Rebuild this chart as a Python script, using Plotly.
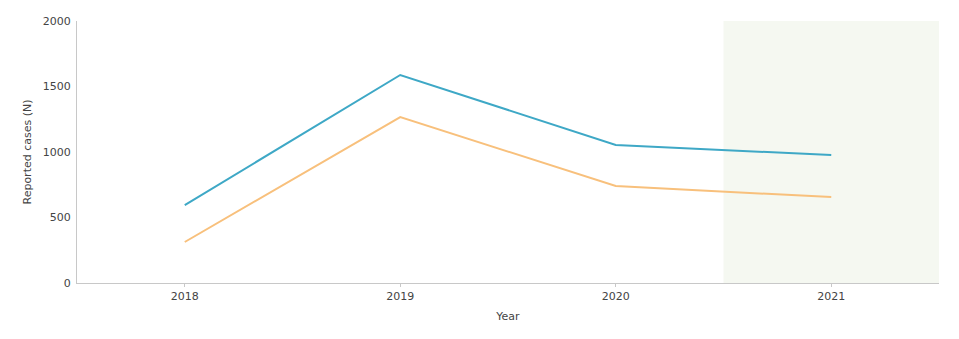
import plotly.graph_objects as go

years = ["2018", "2019", "2020", "2021"]
series_a = [595, 1588, 1053, 977]
series_b = [313, 1267, 740, 656]
y_ticks = [0, 500, 1000, 1500, 2000]

fig = go.Figure()
fig.add_vrect(x0=2.5, x1=3.5, fillcolor="#f5f8f1", line_width=0, layer="below")
fig.add_trace(go.Scatter(x=years, y=series_a, mode="lines", line=dict(color="#3ea8c6", width=2), showlegend=False))
fig.add_trace(go.Scatter(x=years, y=series_b, mode="lines", line=dict(color="#f8c07c", width=2), showlegend=False))

fig.update_layout(
    width=959, height=339,
    margin=dict(l=77, r=20, t=21, b=56),
    paper_bgcolor="white", plot_bgcolor="white",
    font=dict(family="DejaVu Sans, Verdana, sans-serif", size=11, color="#444"),
)
fig.update_xaxes(type="category", range=[-0.5, 3.5], showline=True, linecolor="#c8c8c8", linewidth=1,
                 showgrid=False, ticks="outside", ticklen=3, tickcolor="#c8c8c8", ticklabelstandoff=0,
                 title=dict(text="Year", standoff=10, font=dict(size=11)))
fig.update_yaxes(range=[0, 2000], tickvals=y_ticks, showline=True, linecolor="#c8c8c8", linewidth=1,
                 showgrid=False, zeroline=False, ticks="", ticklabelstandoff=3,
                 title=dict(text="Reported cases (N)", standoff=8, font=dict(size=11)))

fig.write_html("out.html")
